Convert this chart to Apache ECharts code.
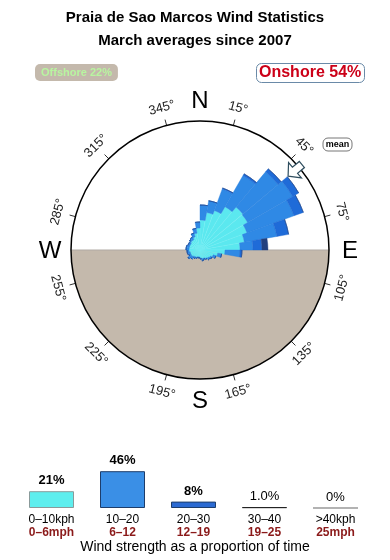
<!DOCTYPE html>
<html><head><meta charset="utf-8">
<script src="https://cdn.jsdelivr.net/npm/echarts@6/dist/echarts.min.js"></script>
<style>html,body{margin:0;padding:0;background:#fff}#c{width:390px;height:560px}</style>
</head><body><div id="c"></div>
<script>
// ---- Data ----
const directions = ['0','10','20','30','40','50','60','70','80','90','100','110','120','130','140','150','160','170',
  '180','190','200','210','220','230','240','250','260','270','280','290','300','310','320','330','340','350'];
// radial extent of each speed band per 10° sector (units: rose radius = 129)
const band0_10  = [30,38,42,50,56,55,50,45,40,25,18,14,12,11,10,9,9,8,7,7,8,8,9,10,10,10,11,11,11,11,11,12,12,14,17,22];
const band10_20 = [15,12,23,36,46,52,50,33,13,15,4,3,2,2,1,1,2,1,1,1,1,2,3,4,2,3,2,3,3,2,2,2,3,4,5,6];
const band20_30 = [0,0,1,2,4,7,10,12,9,2,0,0,0,0,0,0,0,0,0,0,0,0,0,0,0,0,0,0,0,0,0,0,0,0,0,0];
const band30_40 = [0,0,0,0,0,0,0,0,6,0,0,0,0,0,0,0,0,0,0,0,0,0,0,0,0,0,0,0,0,0,0,0,0,0,0,0];
const roseMax = 129;
const degreeTicks = [15,45,75,105,135,165,195,225,255,285,315,345];
const compass = [['N',0],['E',90],['S',180],['W',270]];
const meanDirection = 50;
const offshoreText = 'Offshore 22%';
const onshoreText = 'Onshore 54%';
const strengthKph = ['0–10kph','10–20','20–30','30–40','>40kph'];
const strengthMph = ['0–6mph','6–12','12–19','19–25','25mph'];
const strengthPct = [21,46,8,1.0,0];
const strengthLabels = ['21%','46%','8%','1.0%','0%'];

// ---- Layout ----
const CX = 200, CY = 250, R = 129;
const FONT = 'Liberation Sans, Arial, sans-serif';
const chart = echarts.init(document.getElementById('c'), null, {renderer:'canvas'});

function pt(deg, r){ const a = deg*Math.PI/180; return [CX + r*Math.sin(a), CY - r*Math.cos(a)]; }

const graphics = [];
graphics.push({type:'sector', z:-1, silent:true, shape:{cx:CX, cy:CY, r:R, r0:0, startAngle:0, endAngle:Math.PI}, style:{fill:'#c4b9ac'}});
graphics.push({type:'line', z:-1, silent:true, shape:{x1:CX-R, y1:CY, x2:CX+R, y2:CY}, style:{stroke:'#b0aaa4', lineWidth:1}});
degreeTicks.forEach(d => {
  const p = pt(d, 147);
  let rot = (d <= 90) ? d : (d >= 270 ? d-360 : d-180);
  graphics.push({type:'text', x:p[0], y:p[1], rotation:-rot*Math.PI/180, z:5,
    style:{text:d+'°', font:'13px '+FONT, fill:'#222', align:'center', verticalAlign:'middle'}});
});
compass.forEach(([t,d]) => {
  const p = pt(d, 150);
  graphics.push({type:'text', x:p[0], y:p[1]+1, z:5, style:{text:t, font:'24px '+FONT, fill:'#000', align:'center', verticalAlign:'middle'}});
});
(function(){
  const a = meanDirection*Math.PI/180;
  const ux = Math.sin(a), uy = -Math.cos(a);
  const px = Math.cos(a), py = Math.sin(a);
  const P = (r, w) => [CX + ux*r + px*w, CY + uy*r + py*w];
  const pts = [P(115,0), P(124,10), P(124,4), P(133,4), P(133,-4), P(124,-4), P(124,-10)];
  graphics.push({type:'polygon', z:6, shape:{points:pts}, style:{fill:'#fff', stroke:'#2e4d5e', lineWidth:1.2}});
})();
graphics.push({type:'rect', z:6, shape:{x:323, y:138, width:29, height:13, r:5}, style:{fill:'#fff', stroke:'#777', lineWidth:1}});
graphics.push({type:'text', z:7, x:337.5, y:144.5, style:{text:'mean', font:'bold 9px '+FONT, fill:'#000', align:'center', verticalAlign:'middle'}});

const roseStyle = [
  {color:'#5be8ef', borderColor:'#74edf2', borderWidth:0.4},
  {color:'#2f89e5', borderColor:'#2b82de', borderWidth:0.4},
  {color:'#1f6bd8', borderColor:'#1d64cc', borderWidth:0.4},
  {color:'#22407f', borderColor:'#22407f', borderWidth:0.4}
];
const roseBands = [band0_10, band10_20, band20_30, band30_40];

const series = roseBands.map((b, i) => ({
  type:'bar', coordinateSystem:'polar', polarIndex:0, stack:'rose', data:b,
  barCategoryGap:'0%', barGap:'0%', itemStyle:roseStyle[i], z:3, silent:true, animation:false
}));

const barColors = [
  {color:'#5eeeee', borderColor:'#8a9a9a', borderWidth:1},
  {color:'#3a8fe6', borderColor:'#1d3d6b', borderWidth:1},
  {color:'#2b6ad2', borderColor:'#1d3d6b', borderWidth:1},
  {color:'#1a2a50', borderColor:'#222', borderWidth:1},
  {color:'#999', borderColor:'#999', borderWidth:1}
];
series.push({
  type:'bar', xAxisIndex:0, yAxisIndex:0, barWidth:45, animation:false,
  data: strengthPct.map((v,i) => ({value:v, itemStyle:barColors[i],
    label:{fontWeight: i < 3 ? 'bold' : 'normal'}})),
  label:{show:true, position:'top', distance:4, fontSize:13, fontFamily:FONT, color:'#000',
    formatter: p => strengthLabels[p.dataIndex]}
});

chart.setOption({
  animation:false,
  backgroundColor:'#fff',
  title:[
    {text:'Praia de Sao Marcos Wind Statistics', left:'center', top:10, padding:0, textStyle:{fontSize:15, fontWeight:'bold', fontFamily:FONT, color:'#000'}},
    {text:'March averages since 2007', left:'center', top:33, padding:0, textStyle:{fontSize:15, fontWeight:'bold', fontFamily:FONT, color:'#000'}},
    {text:offshoreText, left:35, top:64, padding:[3,6,3,6], backgroundColor:'#c4b9ac', borderRadius:5, textStyle:{fontSize:11, fontWeight:'bold', fontFamily:FONT, color:'#b8f5a0'}},
    {text:onshoreText, left:256, top:63, padding:[2,3,2,3], backgroundColor:'#fff', borderColor:'#6a8aa8', borderWidth:1, borderRadius:5, textStyle:{fontSize:16, fontWeight:'bold', fontFamily:FONT, color:'#cc0018'}},
    {text:'Wind strength as a proportion of time', left:'center', top:540, padding:0, textStyle:{fontSize:14, fontWeight:'normal', fontFamily:FONT, color:'#000'}}
  ],
  polar:[{center:[CX,CY], radius:R}, {center:[CX,CY], radius:R}],
  angleAxis:[
    {polarIndex:0, type:'category', data:directions, startAngle:90, clockwise:true, boundaryGap:true,
      axisLine:{show:false}, axisTick:{show:false}, axisLabel:{show:false}, splitLine:{show:false}},
    {polarIndex:1, type:'value', min:0, max:360, interval:30, startAngle:75, clockwise:true,
      axisLine:{show:true, lineStyle:{color:'#000', width:1.5}}, axisTick:{show:true, length:6, lineStyle:{color:'#333', width:1}},
      axisLabel:{show:false}, splitLine:{show:false}, z:4}
  ],
  radiusAxis:[
    {polarIndex:0, type:'value', min:0, max:roseMax, axisLine:{show:false}, axisTick:{show:false}, axisLabel:{show:false}, splitLine:{show:false}},
    {polarIndex:1, type:'value', min:0, max:1, axisLine:{show:false}, axisTick:{show:false}, axisLabel:{show:false}, splitLine:{show:false}}
  ],
  grid:{left:16, right:19, top:468, height:40},
  xAxis:{type:'category', data:strengthKph, axisLine:{show:false}, axisTick:{show:false},
    axisLabel:{margin:5, interval:0, formatter:(v,i) => '{a|'+v+'}\n{b|'+strengthMph[i]+'}',
      rich:{a:{fontSize:12, color:'#000', fontFamily:FONT, lineHeight:13},
            b:{fontSize:12, fontWeight:'bold', color:'#8b1a1a', fontFamily:FONT, lineHeight:13}}}},
  yAxis:{type:'value', min:0, max:50, show:false},
  graphic:{elements:graphics},
  series:series
});
</script></body></html>
